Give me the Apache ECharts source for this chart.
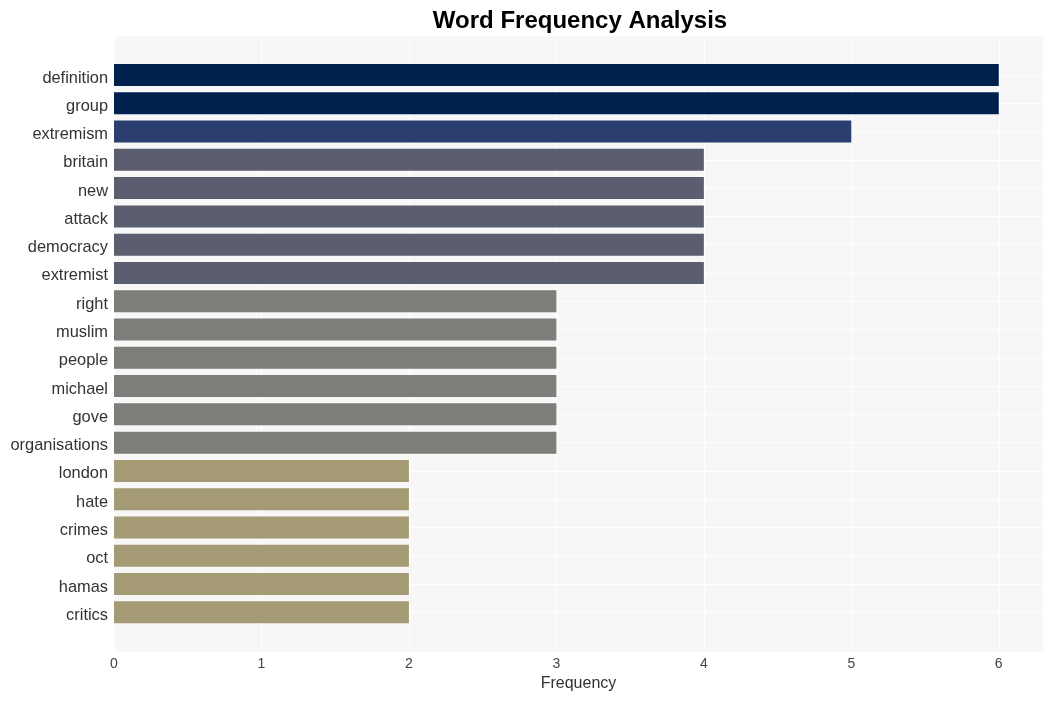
<!DOCTYPE html>
<html>
<head>
<meta charset="utf-8">
<script src="https://cdn.jsdelivr.net/npm/echarts@6/dist/echarts.min.js"></script>
<style>
html,body{margin:0;padding:0;background:#fff;}
#chart{width:1053px;height:701px;}
</style>
</head>
<body>
<div id="chart"></div>
<script>
// ---- data ----
const words = ["definition","group","extremism","britain","new","attack","democracy","extremist","right","muslim","people","michael","gove","organisations","london","hate","crimes","oct","hamas","critics"];
const frequencies = [6,6,5,4,4,4,4,4,3,3,3,3,3,3,2,2,2,2,2,2];
const xTicks = [0,1,2,3,4,5,6];
const chartTitle = "Word Frequency Analysis";
const xAxisTitle = "Frequency";

// ---- styles ----
const palette = {6:"#00214e",5:"#2b3e70",4:"#5a5e6e",3:"#7e7d79",2:"#a49a73"};
const FONT = "Liberation Sans, Arial, sans-serif";
const xMax = 6.3;

const chart = echarts.init(document.getElementById('chart'));
chart.setOption({
  animation:false,
  backgroundColor:'#ffffff',
  graphic:[{
    type:'text', x:580, y:21, z:10,
    style:{text:chartTitle, textAlign:'center', textVerticalAlign:'middle',
      font:'bold 24px ' + FONT, fill:'#000'}
  }],
  grid:[
    {left:114, right:10, top:36, bottom:49, show:true, backgroundColor:'#f7f7f7', borderWidth:0},
    {left:114, right:10, top:75, bottom:88.7, show:false}
  ],
  xAxis:[
    {gridIndex:0, type:'value', min:0, max:xMax, interval:1,
      axisLine:{show:false}, axisTick:{show:false},
      axisLabel:{show:true, showMaxLabel:false, margin:5, fontSize:14, color:'#444', fontFamily:FONT,
        formatter:function(v){return xTicks.indexOf(v)>=0 ? String(v) : '';}},
      splitLine:{show:true, lineStyle:{color:'#ffffff', width:1}},
      name:xAxisTitle, nameLocation:'middle', nameGap:24,
      nameTextStyle:{fontSize:16, color:'#333', fontFamily:FONT}
    },
    {gridIndex:1, type:'value', min:0, max:xMax, show:false, splitLine:{show:false}}
  ],
  yAxis:[
    {gridIndex:0, type:'value', show:false, splitLine:{show:false}},
    {gridIndex:1, type:'category', data:words, inverse:true, boundaryGap:false,
      axisLine:{show:false}, axisTick:{show:false},
      axisLabel:{margin:6, formatter:'{a|{value}}',
        rich:{a:{fontSize:16.4, color:'#333', fontFamily:FONT, padding:[6,0,0,0]}}},
      splitLine:{show:true, lineStyle:{color:'#ffffff', width:1}}
    }
  ],
  series:[{
    type:'bar', xAxisIndex:1, yAxisIndex:1, clip:false,
    barWidth:22,
    data:frequencies.map(function(v){return {value:v, itemStyle:{color:palette[v]}};}),
    itemStyle:{borderWidth:0}
  }]
});
</script>
</body>
</html>
